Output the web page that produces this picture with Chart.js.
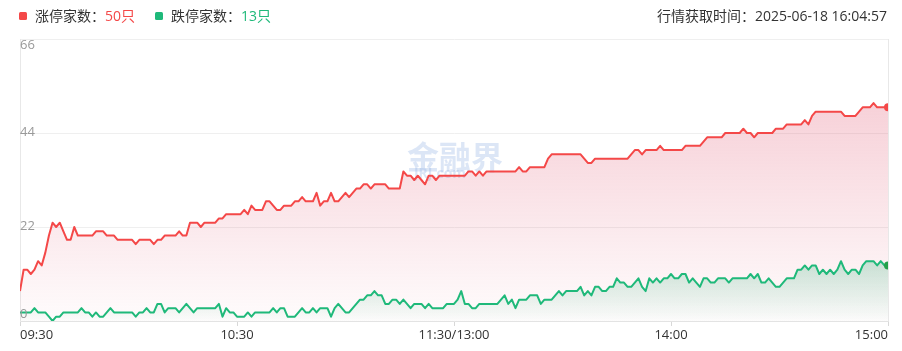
<!DOCTYPE html>
<html><head><meta charset="utf-8">
<script src="https://cdn.jsdelivr.net/npm/chart.js@4/dist/chart.umd.min.js"></script>
<style>
html,body{margin:0;padding:0;background:#fff;}
#wrap{position:relative;width:902px;height:351px;font-family:"Open Sans","Noto Sans CJK SC",sans-serif;}
canvas{position:absolute;left:0;top:0;}
.hdr{position:absolute;top:6px;font-size:14px;color:#333;line-height:20px;white-space:nowrap;}
.sq{display:inline-block;width:8px;height:8px;border-radius:1.5px;margin-right:8px;vertical-align:1px;}
</style></head>
<body>
<div id="wrap">
<canvas id="c" width="902" height="351"></canvas>
<div class="hdr" style="left:19px"><span class="sq" style="background:#f44848"></span>涨停家数：<span style="color:#f44848">50只</span></div>
<div class="hdr" style="left:155px"><span class="sq" style="background:#1fb97a"></span>跌停家数：<span style="color:#1fb97a">13只</span></div>
<div class="hdr" style="right:15px">行情获取时间：2025-06-18 16:04:57</div>
</div>
<script>
// minute index since 09:30 (trading minutes, lunch break skipped)
const tickPositions = [0, 60, 120, 180, 240];
const tickLabels = ["09:30", "10:30", "11:30/13:00", "14:00", "15:00"];
const yTicks = [0, 22, 44, 66];

const limitUp = [
  7,12,12,11,12,14,13,16,20,23,
  22,23,21,19,19,22,20,20,20,20,
  20,21,21,21,20,20,20,19,19,19,
  19,19,18,19,19,19,19,18,19,19,
  20,20,20,20,21,20,20,23,23,23,
  22,23,23,23,23,24,24,25,25,25,
  25,25,26,25,27,26,26,26,28,28,
  27,26,26,27,27,27,28,28,29,28,
  28,28,30,27,28,28,30,28,28,29,
  30,29,30,31,31,32,32,31,32,32,
  32,32,31,31,31,31,35,34,34,33,
  34,33,32,34,34,33,34,34,34,34,
  34,34,34,34,35,35,34,35,34,35,
  35,35,35,35,35,35,35,35,36,35,
  35,36,36,36,36,36,38,39,39,39,
  39,39,39,39,39,39,38,37,37,38,
  38,38,38,38,38,38,38,38,38,39,
  40,40,39,40,40,40,40,41,40,40,
  40,40,40,40,41,41,41,41,41,42,
  43,43,43,43,43,44,44,44,44,44,
  45,44,44,43,44,44,44,44,44,45,
  45,45,46,46,46,46,46,47,46,48,
  49,49,49,49,49,49,49,49,48,48,
  48,48,49,50,50,50,51,50,50,50,
  50
];
const limitDown = [
  2,2,2,2,3,2,2,2,1,0,
  1,1,2,2,2,2,2,3,2,2,
  1,2,1,1,2,3,2,2,2,2,
  2,2,1,2,2,3,2,2,4,4,
  2,3,3,3,2,3,4,3,2,3,
  3,3,3,3,3,4,1,3,2,2,
  1,1,1,2,1,2,2,2,2,2,
  3,2,3,3,1,1,1,2,3,2,
  2,3,2,3,3,3,1,3,4,3,
  2,2,3,4,5,5,6,6,7,6,
  6,4,4,5,5,4,5,4,3,4,
  4,4,3,4,3,3,3,3,4,4,
  4,5,7,4,4,3,3,4,4,4,
  4,4,4,5,6,4,5,3,5,5,
  5,6,6,6,4,5,5,5,6,7,
  6,7,7,7,7,8,6,7,6,8,
  8,7,7,8,8,10,9,9,8,8,
  9,10,8,7,10,9,10,9,10,10,
  11,10,10,11,11,9,10,9,8,10,
  10,9,9,10,10,10,9,10,10,10,
  10,10,11,10,11,9,9,10,9,8,
  8,9,10,10,10,12,12,13,12,13,
  13,11,12,11,12,11,12,14,12,11,
  12,12,11,13,14,14,14,13,14,13,
  13
];

const RED = '#f44848', GREEN = '#1fb97a';
const FONT = '"Open Sans","Noto Sans CJK SC",sans-serif';

function grad(ctx, topVal, rgb, a0, a1) {
  const chart = ctx.chart; const ca = chart.chartArea;
  if (!ca) return 'rgba(' + rgb + ',0.1)';
  const top = chart.scales.y.getPixelForValue(topVal);
  const g = chart.ctx.createLinearGradient(0, top, 0, ca.bottom);
  g.addColorStop(0, 'rgba(' + rgb + ',' + a0 + ')');
  g.addColorStop(1, 'rgba(' + rgb + ',' + a1 + ')');
  return g;
}

const extras = {
  id: 'extras',
  beforeDatasetsDraw(chart) {
    const c = chart.ctx, ca = chart.chartArea;
    c.save();
    // right border
    c.strokeStyle = '#e8e8e8'; c.lineWidth = 1;
    c.beginPath(); c.moveTo(Math.round(ca.right) + 0.5, ca.top); c.lineTo(Math.round(ca.right) + 0.5, ca.bottom); c.stroke();
    // watermark
    c.fillStyle = 'rgba(150,180,228,0.33)';
    c.textAlign = 'center'; c.textBaseline = 'middle';
    c.font = 'bold 32px "Noto Sans CJK SC", sans-serif';
    c.fillText('金融界', 455, 157);
    c.font = 'bold 14px "Open Sans", sans-serif';
    c.fillText('JRJ.com', 440, 174);
    c.restore();
  },
  afterDraw(chart) {
    const c = chart.ctx, ca = chart.chartArea, y = chart.scales.y;
    c.save();
    c.fillStyle = '#999'; c.font = '13px ' + FONT;
    c.textAlign = 'left'; c.textBaseline = 'middle';
    yTicks.forEach(v => {
      let py = y.getPixelForValue(v) - 1;
      py = Math.max(ca.top + 6, Math.min(ca.bottom - 7, py));
      c.fillText(String(v), ca.left, py);
    });
    c.restore();
  }
};

const last = limitUp.length - 1;
new Chart(document.getElementById('c'), {
  type: 'line',
  data: {
    datasets: [
      {
        label: '涨停家数',
        data: limitUp.map((v, i) => ({x: i, y: v})),
        borderColor: RED, borderWidth: 2,
        backgroundColor: ctx => grad(ctx, 66, '226,92,118', 0.36, 0.02),
        fill: 'origin', tension: 0, order: 2,
        pointRadius: ctx => ctx.dataIndex === last ? 4 : 0,
        pointBackgroundColor: RED, pointBorderWidth: 0
      },
      {
        label: '跌停家数',
        data: limitDown.map((v, i) => ({x: i, y: v})),
        borderColor: GREEN, borderWidth: 2,
        backgroundColor: ctx => grad(ctx, 15, '30,170,110', 0.25, 0.01),
        fill: 'origin', tension: 0, order: 1,
        pointRadius: ctx => ctx.dataIndex === last ? 4 : 0,
        pointBackgroundColor: '#24a04a', pointBorderWidth: 0
      }
    ]
  },
  options: {
    responsive: false, animation: false,
    layout: {padding: {left: 20, right: 14, top: 39, bottom: 0}},
    plugins: {legend: {display: false}, tooltip: {enabled: false}},
    elements: {line: {borderJoinStyle: 'round'}},
    scales: {
      x: {
        type: 'linear', min: 0, max: 240,
        afterBuildTicks: s => { s.ticks = tickPositions.map(v => ({value: v})); },
        afterFit: s => { s.height = 30; },
        grid: {drawOnChartArea: false, drawTicks: true, tickLength: 5, color: '#d8d8d8'},
        border: {display: true, color: '#e3e3e3'},
        ticks: {
          autoSkip: false, maxRotation: 0, align: 'inner', padding: 1,
          color: '#333', font: {size: 13, family: FONT},
          callback: (v, i) => tickLabels[i]
        }
      },
      y: {
        min: 0, max: 66,
        afterBuildTicks: s => { s.ticks = yTicks.map(v => ({value: v})); },
        afterFit: s => { s.width = 0; },
        grid: {drawTicks: false, color: '#efefef'},
        border: {display: true, color: '#e8e8e8'},
        ticks: {display: false}
      }
    }
  },
  plugins: [extras]
});
</script>
</body></html>
